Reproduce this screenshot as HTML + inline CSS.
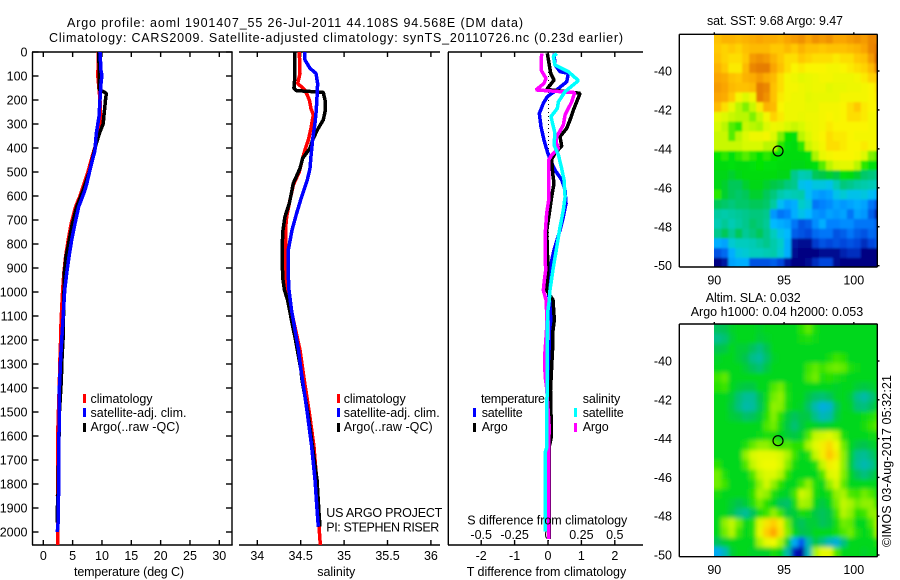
<!DOCTYPE html>
<html lang="en">
<head>
<meta charset="utf-8">
<title>Argo profile</title>
<style>
html,body{margin:0;padding:0;background:#fff;}
#chart{display:block;width:900px;height:580px;background:#fff;}
text{font-family:"Liberation Sans",sans-serif;font-size:12.5px;fill:#000;}
</style>
</head>
<body>
<svg id="chart" xmlns="http://www.w3.org/2000/svg" width="900" height="580" viewBox="0 0 900 580">
  <defs>
    <filter id="blur-sst" x="-5%" y="-5%" width="110%" height="110%"><feGaussianBlur stdDeviation="1"/></filter>
    <filter id="blur-sla" x="-5%" y="-5%" width="110%" height="110%"><feGaussianBlur stdDeviation="2.1"/></filter>
    <clipPath id="clip-sst"><rect x="714" y="34.5" width="163.5" height="232.5"/></clipPath>
    <clipPath id="clip-sla"><rect x="714" y="324" width="163.5" height="232.5"/></clipPath>
  </defs>

  <text x="67" y="27" textLength="456">Argo profile: aoml 1901407_55 26-Jul-2011 44.108S 94.568E (DM data)</text>
  <text x="49" y="42" textLength="574">Climatology: CARS2009. Satellite-adjusted climatology: synTS_20110726.nc (0.23d earlier)</text>

  <g id="layer-heat">
    <g clip-path="url(#clip-sst)"><g id="sst-cells" filter="url(#blur-sst)"></g></g>
    <g clip-path="url(#clip-sla)"><g id="sla-cells" filter="url(#blur-sla)"></g></g>
  </g>
  <g id="layer-axes"></g>
  <g id="layer-lines"></g>

  <g>
    <rect x="83" y="394" width="3" height="9" fill="#ff0000"/>
    <rect x="83" y="408" width="3" height="9" fill="#0000ff"/>
    <rect x="83" y="423" width="3" height="9" fill="#000000"/>
    <text x="90.5" y="403" textLength="62">climatology</text>
    <text x="90.5" y="417" textLength="96">satellite-adj. clim.</text>
    <text x="90.5" y="431" textLength="89">Argo(..raw -QC)</text>
  </g>
  <g>
    <rect x="337" y="394" width="3" height="9" fill="#ff0000"/>
    <rect x="337" y="408" width="3" height="9" fill="#0000ff"/>
    <rect x="337" y="423" width="3" height="9" fill="#000000"/>
    <text x="343.7" y="403" textLength="62">climatology</text>
    <text x="343.7" y="417" textLength="96">satellite-adj. clim.</text>
    <text x="343.7" y="431" textLength="89">Argo(..raw -QC)</text>
  </g>
  <text x="326.3" y="517" textLength="116">US ARGO PROJECT</text>
  <text x="326.3" y="531.5" textLength="113">PI: STEPHEN RISER</text>

  <g>
    <text x="481" y="403" textLength="64">temperature</text>
    <text x="582.7" y="403" textLength="37.5">salinity</text>
    <rect x="473" y="408" width="3" height="9" fill="#0000ff"/>
    <rect x="473" y="423" width="3" height="9" fill="#000000"/>
    <rect x="574" y="408" width="3" height="9" fill="#00ffff"/>
    <rect x="574" y="423" width="3" height="9" fill="#ff00ff"/>
    <text x="481.7" y="417" textLength="41">satellite</text>
    <text x="481.7" y="431" textLength="26">Argo</text>
    <text x="582.7" y="417" textLength="41">satellite</text>
    <text x="582.7" y="431" textLength="26">Argo</text>
  </g>

  <text x="467.3" y="524.5" textLength="160">S difference from climatology</text>
  <text x="74" y="576" textLength="110">temperature (deg C)</text>
  <text x="317.3" y="576" textLength="38">salinity</text>
  <text x="466.7" y="576" textLength="159.5">T difference from climatology</text>

  <text x="707" y="25" textLength="136">sat. SST: 9.68 Argo: 9.47</text>
  <text x="705.7" y="302" textLength="95">Altim. SLA: 0.032</text>
  <text x="690.7" y="316" textLength="172.5">Argo h1000: 0.04 h2000: 0.053</text>
  <text transform="translate(891 547) rotate(-90)" x="0" y="0" textLength="172">©IMOS 03-Aug-2017 05:32:21</text>
</svg>

<script>
// ---------- temperature panel data ----------
var tempClimDepth = [0,100,200,300,340,430,500,600,645,715,783,853,922,992,1061,1131,1200,1270,1339,1408,1560,1850,2054];
var tempClim = [9.4,9.3,9.66,9.83,9.5,8.4,7.6,6.25,5.5,4.75,4.25,3.8,3.5,3.3,3.15,3.02,2.95,2.85,2.78,2.7,2.5,2.42,2.42];
var tempArgoDepth = [0,100,155,165,172,200,250,300,340,400,500,575,645,715,783,853,922,992,1061,1131,1200,1270,1367,1500,1850,1900,1960];
var tempArgo = [9.45,9.55,9.5,10.2,10.75,10.6,10.4,10.2,9.55,8.8,7.85,6.82,5.69,4.95,4.43,3.87,3.58,3.53,3.5,3.4,3.36,3.2,3.07,2.75,2.5,2.4,2.35];
var tempSatDepth = [0,76,97,132,200,270,340,410,479,549,575,645,715,783,853,922,992,1061,1131,1200,1270,1339,1408,1580,1950,2000];
var tempSat = [9.66,9.83,10,9.83,9.66,9.49,9.03,8.8,8.08,7.4,7.11,6.03,5.4,4.84,4.38,3.99,3.65,3.48,3.31,3.14,2.97,2.85,2.73,2.68,2.56,2.39];

// ---------- salinity panel data ----------
var salClimDepth = [0,89,131,158,200,235,262,318,367,408,443,499,554,617,686,742,875,992,1033,1242,1367,1504,1645,1783,1921,1992,2054];
var salClim = [34.484,34.492,34.465,34.549,34.6,34.618,34.645,34.618,34.588,34.549,34.522,34.484,34.415,34.376,34.338,34.325,34.325,34.342,34.365,34.492,34.541,34.60,34.653,34.684,34.709,34.714,34.726];
var salArgoDepth = [0,96,151,161,168,200,249,283,325,367,401,443,485,547,631,686,742,783,908,950,992,1033,1117,1200,1325,1367,1504,1645,1783,1921,1978];
var salArgo = [34.434,34.434,34.422,34.453,34.76,34.78,34.78,34.76,34.691,34.637,34.607,34.522,34.492,34.415,34.369,34.319,34.296,34.29,34.29,34.296,34.313,34.348,34.394,34.44,34.503,34.515,34.584,34.636,34.688,34.711,34.722];
var salSatDepth = [0,33,68,89,131,165,214,256,297,367,436,485,533,603,672,742,825,908,992,1075,1158,1242,1325,1408,1504,1645,1783,1921,1978];
var salSat = [34.549,34.549,34.607,34.676,34.695,34.691,34.684,34.676,34.664,34.637,34.618,34.607,34.576,34.511,34.453,34.40,34.357,34.354,34.365,34.394,34.434,34.475,34.503,34.538,34.576,34.627,34.665,34.691,34.703];

// ---------- difference panel data ----------
var dTempSatDepth = [6,54,82,89,124,158,186,214,256,311,367,415,447,492,533,575,631,686,742,825,908,992,1075,1158,1242,1408,1780,2030];
var dTempSat = [.18,.21,.36,.61,.56,.26,-.02,-.14,-.26,-.21,-.12,-.02,.06,.21,.41,.51,.54,.46,.36,.18,.05,0,.09,.10,.08,.045,.03,.03];
var dTempArgoDepth = [6,47,89,117,156,165,172,242,283,318,353,392,422,447,506,547,603,672,742,908,992,1033,1117,1158,1242,1408,1510,1610,1650,2030];
var dTempArgo = [-.02,.03,.08,.18,-.04,.51,.96,.76,.66,.56,.36,.41,.21,.11,.14,.18,.11,.04,-.04,0,-.045,.15,.19,.15,.135,.075,.09,.09,.03,.03];
var dSalArgoDepth = [6,75,110,131,158,165,169,207,262,304,353,374,401,429,450,617,672,742,860,908,950,992,1033,1075,1158,1262,1350,1400,1562,1650,2030];
var dSalArgo = [-.048,-.052,-.015,-.03,-.09,.09,.20,.178,.128,.115,.065,.06,.078,.028,.005,.005,-.01,-.019,-.022,-.017,-.027,-.035,-.015,-.011,-.011,-.024,-.022,-.01,.009,.005,.005];
var dSalSatDepth = [6,19,54,82,119,165,207,235,269,339,387,429,485,533,603,658,742,825,908,992,1033,1075,1158,1408,1650,1665,1998];
var dSalSat = [.065,.04,.052,.152,.228,.128,.078,.07,.022,.052,.045,.078,.102,.12,.128,.115,.086,.062,.037,.015,.01,0,-.007,-.007,-.01,-.02,-.02];

// ---------- tick labels ----------
var depthTicks = [0,100,200,300,400,500,600,700,800,900,1000,1100,1200,1300,1400,1500,1600,1700,1800,1900,2000];
var tempTicks = [0,5,10,15,20,25,30];
var salTicks = [34,34.5,35,35.5,36];
var dTempTicks = [-2,-1,0,1,2];
var dSalTicks = [-0.5,-0.25,0,0.25,0.5];
var latTicks = [-40,-42,-44,-46,-48,-50];
var lonTicks = [90,95,100];

// ---------- float position ----------
var argoLon = [94.568];
var argoLat = [-44.108];

// ---------- map grids: 0.5 degree cells, first row nearest -38.1, first column at 90E ----------
var mapLons = [90,90.5,91,91.5,92,92.5,93,93.5,94,94.5,95,95.5,96,96.5,97,97.5,98,98.5,99,99.5,100,100.5,101,101.5];
var mapLats = [-38.1,-38.6,-39.1,-39.6,-40.1,-40.6,-41.1,-41.6,-42.1,-42.6,-43.1,-43.6,-44.1,-44.6,-45.1,-45.6,-46.1,-46.6,-47.1,-47.6,-48.1,-48.6,-49.1,-49.6];
var sstGrid = [
[11.6,11.8,11.8,11.7,11.8,11.9,12.0,11.9,11.9,11.8,12.0,12.1,12.2,12.0,12.2,12.1,12.2,12.0,12.0,12.1,12.2,12.1,12.3,12.3],
[11.5,11.4,11.5,11.4,11.6,11.7,11.7,11.7,11.5,11.5,11.7,11.5,11.8,11.6,11.6,11.5,11.6,11.6,11.6,11.7,11.8,12.0,12.3,12.5],
[11.6,11.4,11.3,11.3,11.5,12.1,12.2,12.1,11.8,11.5,11.3,11.3,11.5,11.4,11.3,11.3,11.3,11.2,11.3,11.3,11.5,11.6,12.1,12.7],
[11.8,11.5,11.2,11.2,11.7,12.3,12.4,12.4,12.0,11.6,11.3,11.1,11.2,11.1,11.1,11.1,11.0,11.0,11.1,11.2,11.3,11.4,11.7,12.4],
[12.0,11.9,11.6,11.5,11.8,11.9,12.1,11.9,11.7,11.3,11.0,10.9,10.7,10.8,10.9,11.0,11.0,10.9,10.9,10.9,11.0,11.2,11.4,11.5],
[12.1,12.0,11.7,11.6,11.6,11.7,12.4,12.3,11.6,11.3,11.0,11.0,10.9,10.8,10.9,10.9,10.7,10.8,10.8,10.9,10.9,11.0,11.1,11.3],
[12.0,11.9,11.5,11.0,10.6,11.0,12.4,12.2,11.6,11.2,11.0,10.9,10.9,10.7,10.8,10.8,10.8,10.8,11.0,11.0,11.0,11.0,11.1,11.2],
[11.7,11.3,10.8,10.3,10.1,10.4,11.2,11.8,11.7,11.1,10.9,10.9,10.9,10.8,10.8,11.0,11.0,11.0,11.1,11.3,11.5,11.2,11.1,11.1],
[10.8,10.6,10.4,10.3,10.3,10.1,10.4,11.0,11.4,11.2,10.9,10.9,10.8,10.9,10.9,11.0,11.1,11.0,11.1,11.3,11.3,11.2,11.0,11.0],
[10.5,10.3,10.0,9.9,10.4,10.3,10.2,10.6,10.9,10.8,10.5,10.4,10.5,10.8,10.9,11.0,11.2,11.1,11.1,11.1,11.1,11.1,11.0,11.0],
[10.4,10.4,10.0,10.3,10.6,10.9,10.9,11.0,10.6,10.1,9.8,9.7,10.3,10.6,10.9,11.1,11.3,11.2,11.2,11.1,11.0,11.0,11.0,11.0],
[10.4,10.4,10.4,10.4,10.5,10.5,10.5,10.3,10.3,9.9,9.7,9.6,9.9,10.4,10.7,11.0,11.3,11.3,11.2,11.1,11.1,11.2,11.0,11.0],
[9.8,9.9,9.7,9.9,10.0,9.9,9.8,9.9,9.8,9.7,9.6,9.6,9.6,9.7,10.2,10.8,11.0,11.1,11.1,11.1,11.0,10.6,10.1,10.0],
[9.6,9.6,9.7,9.6,9.6,9.7,9.8,9.7,9.7,9.6,9.6,9.5,9.5,9.6,9.7,10.0,10.3,10.6,10.7,10.7,10.3,9.9,9.7,9.7],
[9.5,9.5,9.4,9.5,9.6,9.6,9.6,9.6,9.6,9.5,9.5,8.9,8.5,8.6,9.2,9.3,9.4,9.3,9.7,9.6,9.4,9.1,9.0,8.9],
[9.5,9.4,9.2,9.2,9.4,9.5,9.5,9.4,9.3,9.2,9.0,8.9,8.0,7.9,8.1,8.1,8.0,8.5,9.0,8.9,8.7,8.6,8.5,8.4],
[9.9,9.4,9.2,9.1,9.2,9.4,9.4,9.2,9.0,8.6,8.4,8.5,8.6,7.9,7.6,7.5,7.6,8.0,8.2,8.0,8.0,8.1,7.9,7.7],
[9.2,9.1,9.0,9.1,9.1,9.2,9.2,9.1,8.7,7.9,7.6,7.7,8.3,8.1,7.2,7.3,7.4,7.6,7.5,7.6,7.7,7.6,7.2,6.9],
[8.7,8.6,8.7,8.8,8.9,9.0,9.0,8.9,7.5,7.2,7.3,7.7,8.0,7.8,7.5,7.4,7.6,7.5,7.6,7.2,7.6,7.5,7.0,6.5],
[8.5,8.8,8.5,8.7,8.9,9.1,9.0,8.8,7.8,7.7,7.6,7.2,6.9,7.0,7.4,7.7,7.3,7.3,7.4,7.4,7.2,7.2,7.2,7.0],
[8.9,9.2,8.8,9.2,8.8,9.0,9.2,8.9,8.4,8.0,7.8,7.0,6.9,6.8,7.1,7.2,7.2,6.9,7.0,7.2,7.0,6.9,7.1,7.0],
[7.7,7.6,8.2,8.4,8.4,8.5,8.7,8.9,8.6,8.3,7.7,6.4,6.3,6.3,6.7,6.9,6.8,6.9,6.8,6.9,6.8,6.6,6.8,6.9],
[6.9,7.1,7.7,8.1,8.2,8.4,8.4,8.5,8.6,8.2,7.7,6.3,6.2,6.2,6.2,6.3,6.3,6.3,6.5,6.6,6.6,6.2,6.2,6.2],
[6.2,6.4,7.6,7.7,7.7,6.9,6.9,6.9,7.0,6.8,6.4,6.2,6.2,6.3,6.6,6.8,6.8,6.3,6.2,6.2,6.2,6.2,6.2,6.2]
];
var slaGrid = [
[-.05,-.04,-.01,0,0,0,-.01,0,0,0,0,0,.04,.07,.02,0,0,0,0,0,0,0,0,0],
[-.09,-.07,-.02,0,0,0,-.02,-.01,0,0,0,0,.02,.03,.01,0,0,0,0,0,0,0,0,0],
[-.04,-.03,0,-.02,-.02,-.05,-.08,-.04,0,0,0,0,0,0,0,0,0,0,0,0,0,0,0,0],
[-.01,0,0,-.02,-.04,-.09,-.11,-.06,-.01,0,0,0,0,0,0,0,.02,.05,.04,0,0,0,0,0],
[0,0,0,0,-.02,-.05,-.07,-.03,0,0,0,0,0,.05,.07,.05,.07,.08,.07,.03,.01,0,0,0],
[.05,.07,0,0,0,0,0,0,0,0,0,0,0,.06,.08,.03,.04,.03,.01,0,0,0,0,0],
[.04,.05,0,-.02,-.03,-.03,0,0,.06,.08,.02,0,0,0,0,0,0,-.01,0,0,-.02,-.03,-.02,0],
[0,0,-.02,-.07,-.1,-.1,-.04,.01,.08,.1,.03,0,0,-.03,-.06,-.07,-.05,-.01,0,-.02,-.09,-.12,-.08,-.02],
[0,0,-.03,-.08,-.12,-.11,-.05,.02,.1,.09,.02,0,-.01,-.06,-.13,-.18,-.16,-.05,0,-.01,-.07,-.08,-.05,0],
[0,0,-.02,-.03,-.06,-.05,-.02,.04,.09,.04,-.02,-.05,-.03,-.03,-.09,-.14,-.12,-.03,0,0,0,.01,.03,.05],
[0,0,0,0,0,0,0,.06,.08,.02,-.03,-.07,-.03,0,-.01,-.02,-.01,0,0,0,0,.02,.05,.07],
[0,0,0,0,0,0,.01,.03,.02,0,-.02,-.03,-.01,.06,.14,.16,.19,.14,.03,0,0,0,.01,.02],
[0,0,0,0,.03,.07,.1,.1,.07,.05,.06,.04,.04,.12,.19,.24,.28,.22,.08,0,-.03,-.04,-.02,0],
[0,0,0,0,.1,.17,.2,.2,.2,.17,.12,.05,0,.03,.14,.24,.31,.25,.1,-.01,-.09,-.1,-.07,-.02],
[.04,0,0,0,.06,.14,.2,.22,.22,.18,.09,.02,0,0,.03,.14,.24,.22,.1,-.02,-.1,-.13,-.1,-.03],
[.08,.03,0,0,0,.06,.14,.18,.18,.13,.04,0,0,0,0,.06,.18,.2,.09,0,-.05,-.08,-.05,-.01],
[.08,.05,0,0,0,.02,.1,.16,.1,.04,0,0,.05,.1,.03,0,.1,.16,.07,0,0,0,0,0],
[.02,0,0,0,0,.04,.12,.1,.03,0,-.01,.05,.15,.13,.02,0,.02,.1,.12,.06,.05,.08,.06,.01],
[0,0,-.02,-.04,-.02,.03,.08,.04,0,-.05,-.06,.01,.12,.11,0,-.03,0,.08,.14,.12,.08,.1,.1,.04],
[0,0,-.03,-.08,-.1,-.05,.02,.05,.1,.05,-.03,-.02,.02,.01,-.03,-.05,-.03,.05,.13,.1,.04,.05,.1,.1],
[0,.1,.14,.08,0,.03,.18,.26,.3,.24,.08,-.02,-.05,-.02,-.02,-.05,-.03,.02,.08,.07,0,0,.06,.13],
[0,.08,.13,.05,0,.03,.2,.3,.36,.26,.09,0,-.04,-.03,0,0,0,.02,.06,.08,.03,0,.03,.12],
[-.05,-.02,0,0,0,0,.12,.2,.22,.12,-.02,-.2,-.28,-.12,-.03,-.08,-.14,-.17,-.08,0,0,0,0,.03],
[-.2,-.14,-.02,0,0,-.01,-.01,-.01,.02,0,-.12,-.38,-.42,-.14,.12,.2,.2,.06,0,0,0,-.01,0,0]
];
// colour scales: [value, r, g, b]
var sstColors = [[6.2,0,0,130],[6.8,0,70,220],[7.3,0,130,255],[7.8,0,185,255],[8.3,0,205,200],[8.9,0,200,140],[9.3,0,200,70],[9.5,0,215,20],[9.8,0,228,0],[10.2,170,245,0],[10.5,215,250,0],[11.1,250,245,0],[11.5,255,200,0],[12.0,250,165,0],[12.4,230,125,0],[12.8,205,90,0]];
var slaColors = [[-.42,0,0,160],[-.3,0,60,240],[-.2,0,170,240],[-.1,0,190,150],[-.04,0,195,80],[0,0,215,30],[.04,40,225,0],[.09,130,240,0],[.15,205,248,0],[.22,240,250,0],[.3,255,205,0],[.36,255,165,0]];

// ---------- axis functions ----------
var NS = 'http://www.w3.org/2000/svg';
function yDepth(d){ return 52 + d * 0.24; }
function xTemp(t){ return 43.3 + t * 5.867; }
function xSal(s){ return 257.3 + (s - 34) * 86.8; }
function xDT(t){ return 548 + t * 33.4; }
function xDS(s){ return 548 + s * 133.6; }
function xLon(l){ return 714.3 + (l - 90) * 13.95; }
function ySst(l){ return 71 + (-40 - l) * 19.47; }
function ySla(l){ return 361 + (-40 - l) * 19.4; }

function make(tag, parent, name, attrs){
  var el = document.createElementNS(NS, tag);
  
  
  for (var k in attrs) el.setAttribute(k, attrs[k]);
  parent.appendChild(el);
  return el;
}
var axes = document.getElementById('layer-axes');
var linesLayer = document.getElementById('layer-lines');

function line(name, x1, y1, x2, y2, w){
  return make('line', axes, name, {x1:x1, y1:y1, x2:x2, y2:y2, stroke:'#000', 'stroke-width':w || 1.4});
}
function label(name, str, x, y, anchor){
  var t = make('text', axes, name, {x:x, y:y, 'text-anchor':anchor || 'middle'});
  t.textContent = str;
  return t;
}

// panel frames
line('temperature-axis-top', 32, 52, 232.7, 52);
line('temperature-axis-bottom', 32, 545, 232.7, 545);
line('temperature-axis-left', 32.5, 52, 32.5, 545);
line('temperature-axis-right', 232, 52, 232, 545);
line('salinity-axis-top', 239, 52, 440, 52);
line('salinity-axis-bottom', 239, 545, 440, 545);
line('difference-axis-top', 448, 52, 643, 52);
line('difference-axis-bottom', 448, 545, 643, 545);
line('difference-axis-left', 448.3, 52, 448.3, 545);

depthTicks.forEach(function(d){
  var y = yDepth(d);
  line('depth-tick-left', 32.5, y, 38.5, y);
  line('depth-tick-right', 226, y, 232, y);
  label('depth-tick-label', String(d), 27.5, y + 4.5, 'end');
});
tempTicks.forEach(function(t){
  var x = xTemp(t);
  line('temperature-tick-top', x, 52, x, 57);
  line('temperature-tick-bottom', x, 540, x, 545);
  label('temperature-tick-label', String(t), x, 560);
});
salTicks.forEach(function(s){
  var x = xSal(s);
  line('salinity-tick-top', x, 52, x, 57);
  line('salinity-tick-bottom', x, 540, x, 545);
  label('salinity-tick-label', String(s), x, 560);
});
dTempTicks.forEach(function(t){
  var x = xDT(t);
  line('t-difference-tick-top', x, 52, x, 57);
  line('t-difference-tick-bottom', x, 540, x, 545);
  label('t-difference-tick-label', String(t), x, 560);
});
dSalTicks.forEach(function(s){
  label('s-difference-tick-label', String(s), xDS(s), 539);
});

// zero reference line in difference panel
make('line', linesLayer, 'zero-difference-line', {x1:xDT(0)+0.5, y1:yDepth(0), x2:xDT(0)+0.5, y2:yDepth(2050), stroke:'#000', 'stroke-width':1, 'stroke-dasharray':'1 3'});

function profile(name, depths, values, xFn, color){
  var pts = depths.map(function(d, i){ return xFn(values[i]).toFixed(2) + ',' + yDepth(d).toFixed(2); }).join(' ');
  return make('polyline', linesLayer, name, {points:pts, fill:'none', stroke:color, 'stroke-width':3.5, 'stroke-linejoin':'bevel', 'shape-rendering':'crispEdges'});
}
profile('temperature-climatology-line', tempClimDepth, tempClim, xTemp, '#ff0000');
profile('temperature-argo-line', tempArgoDepth, tempArgo, xTemp, '#000000');
profile('temperature-satellite-line', tempSatDepth, tempSat, xTemp, '#0000ff');
profile('salinity-climatology-line', salClimDepth, salClim, xSal, '#ff0000');
profile('salinity-argo-line', salArgoDepth, salArgo, xSal, '#000000');
profile('salinity-satellite-line', salSatDepth, salSat, xSal, '#0000ff');
profile('t-difference-satellite-line', dTempSatDepth, dTempSat, xDT, '#0000ff');
profile('t-difference-argo-line', dTempArgoDepth, dTempArgo, xDT, '#000000');
profile('s-difference-argo-line', dSalArgoDepth, dSalArgo, xDS, '#ff00ff');
profile('s-difference-satellite-line', dSalSatDepth, dSalSat, xDS, '#00ffff');

// heatmaps
function colorFor(v, stops){
  if (v <= stops[0][0]) return 'rgb(' + stops[0].slice(1).join(',') + ')';
  for (var i = 1; i < stops.length; i++){
    if (v <= stops[i][0]){
      var a = stops[i-1], b = stops[i], f = (v - a[0]) / (b[0] - a[0]);
      return 'rgb(' + [1,2,3].map(function(k){ return Math.round(a[k] + (b[k] - a[k]) * f); }).join(',') + ')';
    }
  }
  return 'rgb(' + stops[stops.length-1].slice(1).join(',') + ')';
}
function heatmap(groupId, cellName, grid, yFn, stops){
  var g = document.getElementById(groupId);
  grid.forEach(function(row, r){
    row.forEach(function(v, c){
      var x0 = xLon(mapLons[c]), x1 = xLon(mapLons[c] + 0.5);
      var y0 = yFn(mapLats[r]), y1 = yFn(mapLats[r] - 0.5);
      if (c === 0) x0 -= 8;
      if (c === row.length - 1) x1 += 12;
      if (r === 0) y0 -= 8;
      if (r === grid.length - 1) y1 += 8;
      make('rect', g, cellName, {x:x0.toFixed(2), y:y0.toFixed(2), width:(x1 - x0 + 0.5).toFixed(2), height:(y1 - y0 + 0.5).toFixed(2), fill:colorFor(v, stops)});
    });
  });
}
heatmap('sst-cells', 'sst-cell', sstGrid, ySst, sstColors);
heatmap('sla-cells', 'sla-cell', slaGrid, ySla, slaColors);

function mapFrame(prefix, top, bottom, yFn){
  line(prefix + '-axis-top', 679.3, top, 877.5, top);
  line(prefix + '-axis-bottom', 679.3, bottom, 877.5, bottom);
  line(prefix + '-axis-left', 679.3, top, 679.3, bottom);
  line(prefix + '-axis-right', 877.3, top, 877.3, bottom);
  latTicks.forEach(function(l){
    var y = yFn(l);
    line(prefix + '-lat-tick', 877.3, y, 879.5, y);
    label(prefix + '-lat-label', String(l), 672, y + 4.5, 'end');
  });
  lonTicks.forEach(function(l){
    var x = xLon(l);
    line(prefix + '-lon-tick', x, top - 2, x, top);
    label(prefix + '-lon-label', String(l), x, bottom + 17.5);
  });
  make('circle', axes, prefix + '-argo-position-marker', {cx:xLon(argoLon[0]).toFixed(2), cy:yFn(argoLat[0]).toFixed(2), r:5, fill:'none', stroke:'#000', 'stroke-width':1.2});
}
mapFrame('sst', 34.3, 267, ySst);
mapFrame('sla', 324, 556.7, ySla);
</script>
</body>
</html>
